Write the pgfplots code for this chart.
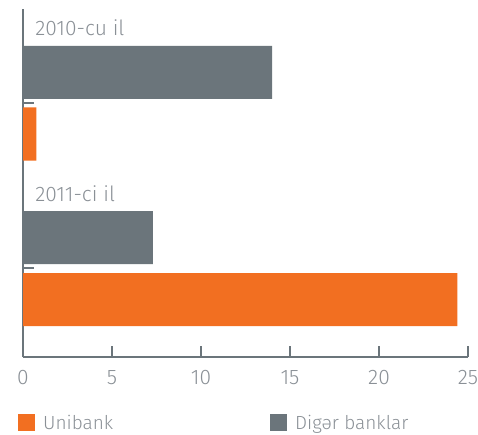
\documentclass[border=0pt]{standalone}
\usepackage{fontspec}
\setmainfont{Fira Sans Light}
\usepackage{pgfplots}
\pgfplotsset{compat=1.18}
\definecolor{uorange}{HTML}{F26F21}
\definecolor{ugray}{HTML}{6B757B}
\definecolor{utext}{HTML}{8A9096}
\begin{document}
\begin{tikzpicture}
\useasboundingbox (-23pt,-77pt) rectangle (455pt,357pt);
\begin{axis}[
  at={(0pt,0pt)}, anchor=south west,
  scale only axis, width=445pt, height=348pt,
  xmin=0, xmax=25, ymin=0, ymax=348,
  axis x line*=bottom, axis y line*=left,
  axis line style={ugray, line width=1.2pt},
  xtick={0,5,10,15,20,25},
  ytick={89,254}, yticklabels={},
  tick align=inside,
  major tick length=11pt,
  tick style={ugray, line width=1.2pt},
  /pgf/number format/assume math mode=true,
  xticklabel style={font=\fontsize{21}{24}\selectfont, text=utext, yshift=-10pt},
  legend columns=2,
  legend style={at={(0,-77pt)}, anchor=south west, draw=none, fill=none,
    font=\fontsize{19}{22}\selectfont, text=utext, xshift=-8pt, yshift=-1pt,
    /tikz/every odd column/.append style={column sep=6pt},
    /tikz/every even column/.append style={column sep=155pt}},
  legend image code/.code={\fill[#1] (0pt,-8.5pt) rectangle (17pt,8.5pt);},
]
\addplot[xbar, bar width=53, bar shift=0pt, fill=uorange, draw=none]
  coordinates {(0.75,223) (24.4,57.5)};
\addlegendentry{Unibank}
\addplot[xbar, bar width=53, bar shift=0pt, fill=ugray, draw=none]
  coordinates {(14.0,284.5) (7.3,119.5)};
\addlegendentry{Digər banklar}
\node[anchor=west, text=utext, font=\fontsize{21}{24}\selectfont] at (axis cs:0.5,329) {2010-cu il};
\node[anchor=west, text=utext, font=\fontsize{21}{24}\selectfont] at (axis cs:0.5,163) {2011-ci il};
\end{axis}
\end{tikzpicture}
\end{document}
